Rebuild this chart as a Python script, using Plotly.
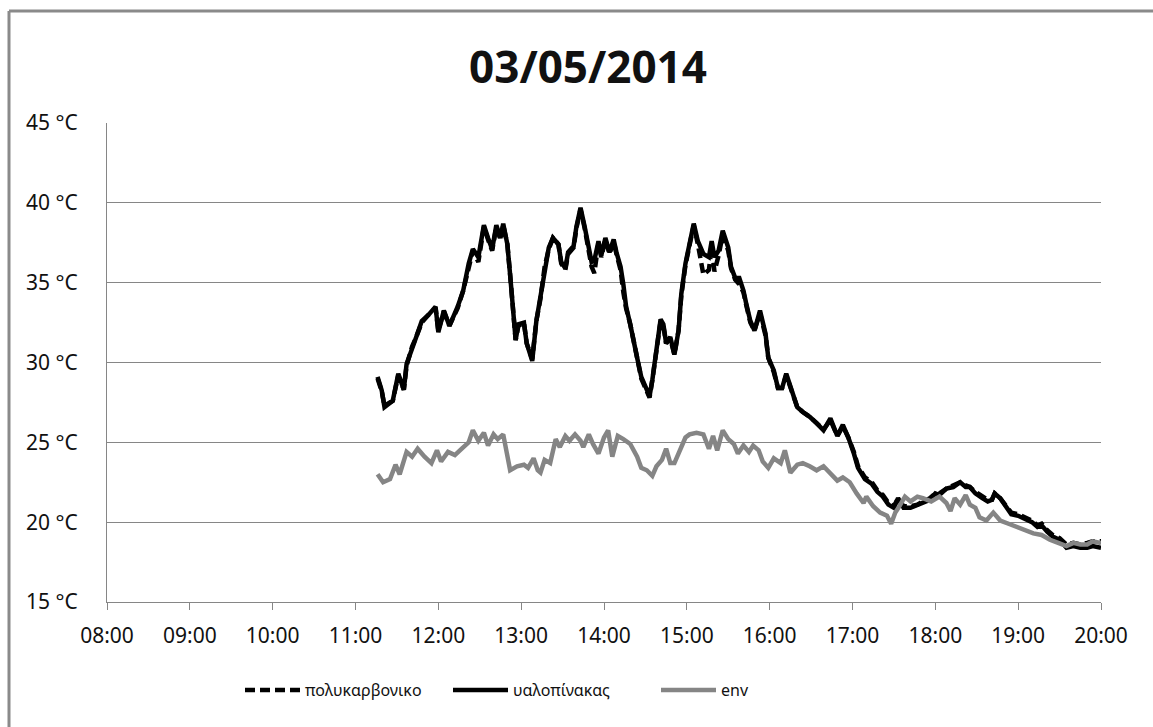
import plotly.graph_objects as go

DAY = "2014-05-03"

# Glass and polycarbonate share the same sampling instants
time_glass = [
    "11:16", "11:19", "11:21", "11:27", "11:31", "11:35", "11:37", "11:41", "11:44", "11:48", "11:53", "11:58",
    "12:00", "12:04", "12:08", "12:14", "12:18", "12:22", "12:25", "12:29", "12:33", "12:36", "12:39", "12:42",
    "12:45", "12:47", "12:50", "12:52", "12:54", "12:56", "12:58",
    "13:02", "13:04", "13:08", "13:11", "13:14", "13:17", "13:20", "13:23", "13:27", "13:29", "13:32", "13:34",
    "13:38", "13:40", "13:43", "13:46", "13:49", "13:51", "13:53", "13:56", "13:58",
    "14:01", "14:04", "14:07", "14:09", "14:12", "14:14", "14:16", "14:19", "14:21", "14:24", "14:27", "14:31",
    "14:33", "14:35", "14:38", "14:41", "14:43", "14:45", "14:48", "14:51", "14:54", "14:56", "14:59",
    "15:02", "15:05", "15:08", "15:12", "15:16", "15:18", "15:20", "15:23", "15:26", "15:30", "15:32", "15:35",
    "15:38", "15:41", "15:43", "15:46", "15:49", "15:53", "15:57", "15:59",
    "16:03", "16:06", "16:09", "16:12", "16:16", "16:20", "16:24", "16:29", "16:34", "16:39", "16:44", "16:49",
    "16:53", "16:57",
    "17:01", "17:04", "17:09", "17:14", "17:18", "17:22", "17:26", "17:30", "17:33", "17:37", "17:42", "17:47",
    "17:51", "17:56",
    "18:00", "18:03", "18:08", "18:13", "18:18", "18:22", "18:25", "18:29", "18:34", "18:38", "18:41", "18:43",
    "18:47", "18:51", "18:55",
    "19:00", "19:05", "19:10", "19:14", "19:17", "19:21", "19:25", "19:30", "19:35", "19:40", "19:45", "19:50",
    "19:54", "20:00",
]

# υαλοπίνακας (°C)
glass = [
    29.1, 28.25, 27.2, 27.6, 29.3, 28.3, 29.9, 31.0, 31.6, 32.6, 33.0, 33.5,
    31.9, 33.25, 32.3, 33.5, 34.5, 36.2, 37.1, 36.6, 38.6, 37.8, 37.1, 38.6,
    37.8, 38.7, 37.4, 35.5, 33.25, 31.4, 32.4,
    32.5, 31.2, 30.1, 32.6, 34.1, 36.0, 37.2, 37.8, 37.4, 36.3, 35.9, 36.9,
    37.3, 38.5, 39.7, 38.5, 37.2, 36.3, 36.4, 37.6, 36.7,
    37.8, 36.9, 37.7, 36.9, 36.0, 34.9, 33.5, 32.4, 31.4, 30.3, 29.1, 28.25,
    27.9, 28.9, 30.75, 32.7, 32.4, 31.2, 31.6, 30.5, 32.0, 34.3, 36.2,
    37.4, 38.7, 37.6, 36.8, 36.6, 37.6, 36.6, 37.0, 38.25, 37.2, 36.0, 35.3,
    35.3, 34.5, 33.7, 32.6, 32.0, 33.25, 31.8, 30.3,
    29.5, 28.4, 28.4, 29.3, 28.25, 27.2, 26.9, 26.6, 26.2, 25.75, 26.5, 25.4,
    26.1, 25.3,
    24.3, 23.4, 22.7, 22.4, 21.9, 21.6, 21.1, 20.9, 21.5, 20.9, 20.9, 21.1,
    21.2, 21.4,
    21.8, 21.7, 22.1, 22.2, 22.5, 22.2, 22.2, 21.8, 21.5, 21.3, 21.4, 21.8,
    21.5, 21.0, 20.5,
    20.4, 20.2, 20.0, 19.7, 19.8, 19.4, 19.1, 18.9, 18.4, 18.5, 18.4, 18.4,
    18.5, 18.4,
]

# πολυκαρβονικο (°C)
polycarb = [
    29.0, 28.2, 27.3, 27.6, 29.2, 28.3, 29.8, 31.0, 31.6, 32.5, 33.0, 33.4,
    32.0, 33.2, 32.3, 33.4, 34.5, 36.1, 37.0, 36.3, 38.5, 37.7, 37.0, 38.5,
    37.7, 38.6, 37.4, 35.5, 33.3, 31.4, 32.3,
    32.5, 31.2, 30.2, 32.6, 34.0, 36.0, 37.1, 37.8, 37.4, 36.2, 35.8, 36.8,
    37.2, 38.4, 39.6, 38.4, 37.1, 36.0, 35.6, 37.5, 36.6,
    37.7, 36.8, 37.6, 36.8, 35.8, 34.4, 33.4, 32.4, 31.4, 30.3, 29.0, 28.1,
    27.8, 28.9, 30.7, 32.6, 32.3, 31.2, 31.5, 30.5, 32.0, 34.2, 36.1,
    37.3, 38.6, 37.4, 35.5, 35.8, 37.3, 35.7, 36.7, 38.0, 37.0, 35.9, 35.2,
    34.9, 34.4, 33.6, 32.5, 32.0, 33.1, 31.7, 30.3,
    29.4, 28.4, 28.4, 29.2, 28.2, 27.2, 26.9, 26.6, 26.2, 25.8, 26.4, 25.4,
    26.0, 25.3,
    24.4, 23.5, 22.8, 22.5, 22.0, 21.7, 21.2, 21.0, 21.5, 21.0, 21.0, 21.1,
    21.3, 21.5,
    21.8, 21.8, 22.1, 22.3, 22.5, 22.3, 22.2, 21.9, 21.6, 21.4, 21.4, 21.8,
    21.5, 21.1, 20.6,
    20.5, 20.3, 20.1, 19.8, 19.9, 19.5, 19.2, 19.0, 18.6, 18.7, 18.6, 18.7,
    18.8, 18.8,
]

# Ambient sensor
time_env = [
    "11:16", "11:20", "11:25", "11:29", "11:32", "11:37", "11:41", "11:45", "11:50", "11:55", "11:59",
    "12:02", "12:07", "12:12", "12:17", "12:22", "12:25", "12:29", "12:33", "12:36", "12:40", "12:43",
    "12:47", "12:50", "12:52", "12:57",
    "13:02", "13:05", "13:09", "13:12", "13:14", "13:17", "13:21", "13:25", "13:28", "13:32", "13:35",
    "13:39", "13:43", "13:45", "13:49", "13:52", "13:56",
    "14:00", "14:03", "14:06", "14:08", "14:10", "14:14", "14:19", "14:24", "14:27", "14:31", "14:35",
    "14:38", "14:42", "14:45", "14:48", "14:51", "14:55", "14:59",
    "15:02", "15:07", "15:12", "15:16", "15:19", "15:22", "15:26", "15:30", "15:34", "15:37", "15:41",
    "15:45", "15:48", "15:52", "15:55", "15:59",
    "16:03", "16:08", "16:11", "16:15", "16:20", "16:24", "16:29", "16:34", "16:39", "16:44", "16:49",
    "16:53", "16:58",
    "17:03", "17:08", "17:10", "17:15", "17:20", "17:25", "17:28", "17:31", "17:34", "17:38", "17:42",
    "17:47", "17:51", "17:57",
    "18:03", "18:08", "18:11", "18:14", "18:18", "18:22", "18:25", "18:29", "18:32", "18:37", "18:42",
    "18:47", "18:53", "18:59",
    "19:05", "19:11", "19:17", "19:23", "19:29", "19:35", "19:40", "19:45", "19:50", "19:54", "20:00",
]

env = [
    23.0, 22.5, 22.7, 23.6, 23.0, 24.4, 24.1, 24.6, 24.1, 23.7, 24.5,
    23.8, 24.4, 24.2, 24.6, 25.0, 25.75, 25.1, 25.6, 24.8, 25.5, 25.2,
    25.5, 24.3, 23.25, 23.5,
    23.6, 23.4, 24.0, 23.25, 23.1, 23.9, 23.7, 25.2, 24.7, 25.4, 25.1,
    25.5, 25.1, 24.7, 25.5, 24.9, 24.3,
    25.3, 25.75, 24.1, 24.9, 25.4, 25.2, 24.9, 24.1, 23.4, 23.25, 22.9,
    23.5, 23.9, 24.6, 23.7, 23.7, 24.5, 25.3,
    25.5, 25.6, 25.5, 24.6, 25.4, 24.5, 25.75, 25.2, 24.9, 24.3, 24.8,
    24.4, 24.8, 24.5, 23.8, 23.4,
    24.0, 23.7, 24.5, 23.1, 23.6, 23.7, 23.5, 23.25, 23.5, 23.0, 22.6,
    22.8, 22.5,
    21.8, 21.2, 21.6, 21.0, 20.6, 20.4, 19.9, 20.6, 21.0, 21.6, 21.3,
    21.6, 21.5, 21.3,
    21.6, 21.2, 20.7, 21.5, 21.1, 21.7, 21.1, 20.9, 20.3, 20.1, 20.6,
    20.1, 19.9, 19.7,
    19.5, 19.3, 19.2, 18.9, 18.7, 18.5, 18.7, 18.6, 18.6, 18.8, 18.7,
]

y_ticks = [15, 20, 25, 30, 35, 40, 45]
y_tick_labels = ["15 °C", "20 °C", "25 °C", "30 °C", "35 °C", "40 °C", "45 °C"]

title_text = "03/05/2014"
name_poly = "πολυκαρβονικο"
name_glass = "υαλοπίνακας"
name_env = "env"

assert len(time_glass) == len(glass) == len(polycarb)
assert len(time_env) == len(env)


def stamp(times):
    return [f"{DAY} {t}" for t in times]


# Page geometry (pixels)
W, H = 1153, 727
M_L, M_R, M_T, M_B = 107, 52, 123, 125
PLOT_W = W - M_L - M_R
PLOT_H = H - M_T - M_B

FONT = "Noto Sans"
AXIS_GREY = "#868686"
TEXT = "#111111"

fig = go.Figure()
fig.add_trace(go.Scatter(
    x=stamp(time_glass), y=polycarb, name=name_poly, mode="lines",
    line=dict(color="#000000", width=4.5, dash="10px,5px"),
))
fig.add_trace(go.Scatter(
    x=stamp(time_glass), y=glass, name=name_glass, mode="lines",
    line=dict(color="#000000", width=4.5),
))
fig.add_trace(go.Scatter(
    x=stamp(time_env), y=env, name=name_env, mode="lines",
    line=dict(color="#858585", width=4.5),
))

# Outer chart frame (left and top edges)
frame_x = (9 - M_L) / PLOT_W
frame_top = 1 + (M_T - 11) / PLOT_H
frame_bottom = -(M_B + 5) / PLOT_H
frame_right = (W + 5 - M_L) / PLOT_W
fig.add_shape(type="line", xref="paper", yref="paper",
              x0=frame_x, x1=frame_x, y0=frame_bottom, y1=frame_top,
              line=dict(color="#8a8a8a", width=3))
fig.add_shape(type="line", xref="paper", yref="paper",
              x0=frame_x, x1=frame_right, y0=frame_top, y1=frame_top,
              line=dict(color="#8a8a8a", width=3))

fig.update_layout(
    width=W, height=H,
    margin=dict(l=M_L, r=M_R, t=M_T, b=M_B, pad=0),
    paper_bgcolor="#ffffff", plot_bgcolor="#ffffff",
    font=dict(family=FONT, color=TEXT),
    title=dict(text=f"<b>{title_text}</b>", font=dict(family=FONT, size=44, color=TEXT),
               x=588 / W, xanchor="center", xref="container",
               y=1 - 68 / H, yanchor="middle", yref="container"),
    showlegend=True,
    legend=dict(orientation="h", x=240 / W, xanchor="left", xref="container",
                y=1 - 690 / H, yanchor="middle", yref="container",
                font=dict(family=FONT, size=16, color=TEXT),
                itemwidth=55, entrywidth=138, entrywidthmode="pixels",
                traceorder="normal"),
    xaxis=dict(
        type="date",
        range=[f"{DAY} 08:00", f"{DAY} 20:00"],
        dtick=3600000, tick0=f"{DAY} 08:00", tickformat="%H:%M",
        showgrid=False, zeroline=False,
        showline=True, linecolor=AXIS_GREY, linewidth=1,
        ticks="outside", ticklen=7, tickcolor=AXIS_GREY, tickwidth=1,
        ticklabelstandoff=8,
        tickfont=dict(family=FONT, size=21, color=TEXT),
    ),
    yaxis=dict(
        range=[15, 45], tickvals=y_ticks, ticktext=y_tick_labels,
        showgrid=True, gridcolor=AXIS_GREY, gridwidth=1, zeroline=False,
        showline=True, linecolor=AXIS_GREY, linewidth=1,
        ticks="", ticklabelstandoff=24,
        tickfont=dict(family=FONT, size=21, color=TEXT),
    ),
)

fig.write_html("out.html", config={"displayModeBar": False})
